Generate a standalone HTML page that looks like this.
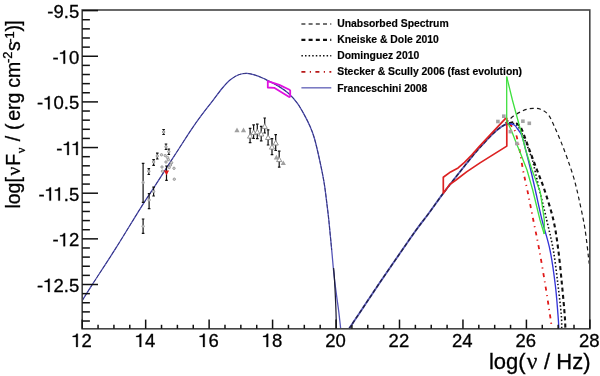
<!DOCTYPE html>
<html><head><meta charset="utf-8"><style>
html,body{margin:0;padding:0;background:#fff;}
svg{display:block;font-family:"Liberation Sans",sans-serif;will-change:transform;}
text{fill:#000;stroke:#000;stroke-width:0.3px;}
</style></head><body>
<svg width="600" height="376" viewBox="0 0 600 376">
<rect width="600" height="376" fill="#fff"/>
<defs><clipPath id="cp"><rect x="82.2" y="10.0" width="507.6" height="319.8"/></clipPath></defs>
<g clip-path="url(#cp)"><path d="M82.00,300.90 C83.73,298.15 86.82,293.10 92.40,284.40 C97.98,275.70 107.60,261.22 115.50,248.70 C123.40,236.18 133.57,219.23 139.80,209.30 C146.03,199.37 148.62,195.73 152.90,189.10 C157.18,182.47 161.30,176.02 165.50,169.50 C169.70,162.98 173.80,156.65 178.10,150.00 C182.40,143.35 187.33,135.48 191.30,129.60 C195.27,123.72 198.35,119.48 201.90,114.70 C205.45,109.92 209.25,105.27 212.60,100.90 C215.95,96.53 219.05,92.03 222.00,88.50 C224.95,84.97 227.52,82.04 230.30,79.75 C233.08,77.46 235.92,75.83 238.70,74.75 C241.48,73.67 244.23,73.22 247.00,73.30 C249.77,73.38 252.52,74.33 255.30,75.20 C258.08,76.07 261.62,77.60 263.70,78.50 C265.78,79.40 265.37,79.33 267.80,80.60 C270.23,81.87 274.78,83.92 278.30,86.10 C281.82,88.28 285.72,90.83 288.90,93.70 C292.08,96.57 294.92,99.93 297.40,103.30 C299.88,106.67 301.67,110.00 303.80,113.90 C305.93,117.80 308.40,122.52 310.20,126.70 C312.00,130.88 312.98,133.23 314.60,139.00 C316.22,144.77 318.32,154.03 319.90,161.30 C321.48,168.57 322.93,175.52 324.10,182.60 C325.27,189.68 326.12,197.57 326.90,203.80 C327.68,210.03 328.00,212.30 328.80,220.00 C329.60,227.70 330.83,240.83 331.70,250.00 C332.57,259.17 333.20,267.50 334.00,275.00 C334.80,282.50 335.70,288.83 336.50,295.00 C337.30,301.17 338.10,306.33 338.80,312.00 C339.50,317.67 340.38,326.17 340.70,329.00" fill="none" stroke="#5454b8" stroke-width="1.3"/><path d="M82.00,300.90 C83.73,298.15 86.82,293.10 92.40,284.40 C97.98,275.70 107.60,261.22 115.50,248.70 C123.40,236.18 133.57,219.23 139.80,209.30 C146.03,199.37 148.62,195.73 152.90,189.10 C157.18,182.47 161.30,176.02 165.50,169.50 C169.70,162.98 173.80,156.65 178.10,150.00 C182.40,143.35 187.33,135.48 191.30,129.60 C195.27,123.72 198.35,119.48 201.90,114.70 C205.45,109.92 209.25,105.27 212.60,100.90 C215.95,96.53 219.05,92.03 222.00,88.50 C224.95,84.97 227.52,82.04 230.30,79.75 C233.08,77.46 235.92,75.83 238.70,74.75 C241.48,73.67 244.23,73.22 247.00,73.30 C249.77,73.38 252.52,74.33 255.30,75.20 C258.08,76.07 261.62,77.60 263.70,78.50 C265.78,79.40 265.37,79.33 267.80,80.60 C270.23,81.87 274.78,83.92 278.30,86.10 C281.82,88.28 285.72,90.83 288.90,93.70 C292.08,96.57 294.92,99.93 297.40,103.30 C299.88,106.67 301.67,110.00 303.80,113.90 C305.93,117.80 308.40,122.52 310.20,126.70 C312.00,130.88 312.98,133.23 314.60,139.00 C316.22,144.77 318.32,154.03 319.90,161.30 C321.48,168.57 322.93,175.52 324.10,182.60 C325.27,189.68 326.12,197.57 326.90,203.80 C327.68,210.03 328.00,212.30 328.80,220.00 C329.60,227.70 331.22,245.00 331.70,250.00" fill="none" stroke="#2a2a66" stroke-width="0.75" stroke-dasharray="4 1.5"/><path d="M333.60,268.00 C333.73,269.67 334.12,273.50 334.40,278.00 C334.68,282.50 335.03,289.33 335.30,295.00 C335.57,300.67 335.82,306.33 336.00,312.00 C336.18,317.67 336.33,326.17 336.40,329.00" fill="none" stroke="#1c1c34" stroke-width="1.25"/><path d="M349.00,328.80 C351.53,325.00 359.13,313.60 364.20,306.00 C369.27,298.40 373.87,291.37 379.40,283.20 C384.93,275.03 391.42,265.67 397.40,257.00 C403.38,248.33 410.03,238.53 415.30,231.20 C420.57,223.87 424.42,219.22 429.00,213.00 C433.58,206.78 437.80,200.57 442.80,193.90 C447.80,187.23 453.48,179.98 459.00,173.00 C464.52,166.02 471.73,157.00 475.90,152.00 C480.07,147.00 481.32,145.92 484.00,143.00 C486.68,140.08 489.50,136.92 492.00,134.50 C494.50,132.08 496.82,130.13 499.00,128.50 C501.18,126.87 503.40,125.52 505.10,124.70 C506.80,123.88 508.52,123.78 509.20,123.60" fill="none" stroke="#5a5ab8" stroke-width="1.9"/><path d="M349.00,328.80 C351.53,325.00 359.13,313.60 364.20,306.00 C369.27,298.40 373.87,291.37 379.40,283.20 C384.93,275.03 391.42,265.67 397.40,257.00 C403.38,248.33 410.03,238.53 415.30,231.20 C420.57,223.87 424.42,219.22 429.00,213.00 C433.58,206.78 437.80,200.57 442.80,193.90 C447.80,187.23 453.48,179.98 459.00,173.00 C464.52,166.02 471.73,157.00 475.90,152.00 C480.07,147.00 481.32,145.92 484.00,143.00 C486.68,140.08 489.50,136.92 492.00,134.50 C494.50,132.08 496.82,130.13 499.00,128.50 C501.18,126.87 503.40,125.52 505.10,124.70 C506.80,123.88 508.52,123.78 509.20,123.60" fill="none" stroke="#22224a" stroke-width="1.4" stroke-dasharray="4 2.2"/><path d="M509.20,123.80 C509.77,124.38 511.52,125.77 512.60,127.30 C513.68,128.83 514.53,129.22 515.70,133.00 C516.87,136.78 518.38,143.83 519.60,150.00 C520.82,156.17 521.72,163.33 523.00,170.00 C524.28,176.67 525.58,181.67 527.30,190.00 C529.02,198.33 531.30,210.00 533.30,220.00 C535.30,230.00 537.30,239.17 539.30,250.00 C541.30,260.83 543.52,274.17 545.30,285.00 C547.08,295.83 548.88,307.67 550.00,315.00 C551.12,322.33 551.67,326.67 552.00,329.00" fill="none" stroke="#e01818" stroke-width="1.8" stroke-dasharray="4 4.4 1.2 4.4"/><path d="M509.20,123.40 C509.92,123.42 511.95,122.90 513.50,123.50 C515.05,124.10 516.75,124.58 518.50,127.00 C520.25,129.42 521.88,133.10 524.00,138.00 C526.12,142.90 529.58,151.90 531.20,156.40 C532.82,160.90 532.52,160.23 533.70,165.00 C534.88,169.77 536.13,175.83 538.30,185.00 C540.47,194.17 544.20,209.17 546.70,220.00 C549.20,230.83 551.42,239.17 553.30,250.00 C555.18,260.83 556.67,274.17 558.00,285.00 C559.33,295.83 560.68,307.67 561.30,315.00 C561.92,322.33 561.63,326.67 561.70,329.00" fill="none" stroke="#111" stroke-width="1.6" stroke-dasharray="1.5 2.1"/><path d="M509.20,123.20 C509.92,123.05 512.03,122.08 513.50,122.30 C514.97,122.52 516.58,123.22 518.00,124.50 C519.42,125.78 520.08,125.75 522.00,130.00 C523.92,134.25 527.00,143.33 529.50,150.00 C532.00,156.67 534.50,163.33 537.00,170.00 C539.50,176.67 541.77,181.67 544.50,190.00 C547.23,198.33 551.10,210.00 553.40,220.00 C555.70,230.00 556.87,239.17 558.30,250.00 C559.73,260.83 560.93,274.17 562.00,285.00 C563.07,295.83 564.13,307.67 564.70,315.00 C565.27,322.33 565.28,326.67 565.40,329.00" fill="none" stroke="#111" stroke-width="2.1" stroke-dasharray="4 3.2"/><path d="M509.20,123.60 C510.05,123.83 512.83,124.02 514.30,125.00 C515.77,125.98 516.83,127.92 518.00,129.50 C519.17,131.08 520.38,132.52 521.30,134.50 C522.22,136.48 522.77,138.82 523.50,141.40 C524.23,143.98 524.50,145.23 525.70,150.00 C526.90,154.77 529.10,163.33 530.70,170.00 C532.30,176.67 533.42,181.67 535.30,190.00 C537.18,198.33 539.55,210.00 542.00,220.00 C544.45,230.00 547.78,239.17 550.00,250.00 C552.22,260.83 553.97,274.17 555.30,285.00 C556.63,295.83 557.40,307.67 558.00,315.00 C558.60,322.33 558.75,326.67 558.90,329.00" fill="none" stroke="#3434d8" stroke-width="1.35"/><path d="M505.50,123.30 C506.08,122.73 507.67,121.10 509.00,119.90 C510.33,118.70 511.75,117.35 513.50,116.10 C515.25,114.85 517.37,113.52 519.50,112.40 C521.63,111.28 524.05,110.07 526.30,109.40 C528.55,108.73 530.63,108.43 533.00,108.40 C535.37,108.37 537.92,108.12 540.50,109.20 C543.08,110.28 546.10,111.82 548.50,114.90 C550.90,117.98 552.77,123.08 554.90,127.70 C557.03,132.32 559.17,137.28 561.30,142.60 C563.43,147.92 565.58,153.58 567.70,159.60 C569.82,165.62 572.12,172.10 574.00,178.70 C575.88,185.30 577.18,190.90 579.00,199.20 C580.82,207.50 583.20,217.77 584.90,228.50 C586.60,239.23 588.48,257.75 589.20,263.60" fill="none" stroke="#1a1a1a" stroke-width="1.2" stroke-dasharray="4 3.2"/><path d="M443.30,177.20 L450.60,171.90 L458.10,167.90 L464.50,162.30 L471.90,154.90 L479.40,146.40 L505.60,118.30 L506.80,118.30 L506.80,146.10 L480.00,162.90 L466.60,171.90 L456.00,180.00 L449.70,184.50 L443.30,193.20Z" fill="none" stroke="#dc2222" stroke-width="1.7" stroke-linejoin="round"/><path d="M506.70,76.60 L506.70,121.00 L508.60,124.50 L512.00,132.00 L516.60,143.90 L519.20,150.00 L527.00,170.00 L532.70,190.00 L540.00,220.00 L544.20,234.00" fill="none" stroke="#3ee03e" stroke-width="1.3" stroke-linejoin="round"/><path d="M506.70,76.60 L512.40,100.00 L520.00,128.00 L525.70,150.00 L532.00,170.00 L540.30,192.00 L544.30,220.00 L544.20,234.00" fill="none" stroke="#3ee03e" stroke-width="1.3" stroke-linejoin="round"/><rect x="502.0" y="114.4" width="3.6" height="3.6" fill="#a4a4a4"/><rect x="496.1" y="119.7" width="3.6" height="3.6" fill="#a4a4a4"/><rect x="508.6" y="129.8" width="3.6" height="3.6" fill="#a4a4a4"/><rect x="515.0" y="141.7" width="3.6" height="3.6" fill="#a4a4a4"/><rect x="521.1" y="119.4" width="3.6" height="3.6" fill="#a4a4a4"/><rect x="527.5" y="121.5" width="3.6" height="3.6" fill="#a4a4a4"/><path d="M267.80,81.10 L279.30,84.90 L289.50,89.70 L290.20,90.60 L290.20,96.40 L289.20,97.10 L274.20,87.80 L267.80,87.50Z" fill="none" stroke="#e010e0" stroke-width="1.8" stroke-linejoin="round"/><line x1="143.1" y1="163.3" x2="143.1" y2="202.3" stroke="#111" stroke-width="1.2"/><line x1="141.8" y1="163.3" x2="144.4" y2="163.3" stroke="#111" stroke-width="1.2"/><line x1="141.8" y1="202.3" x2="144.4" y2="202.3" stroke="#111" stroke-width="1.2"/><circle cx="143.1" cy="182.4" r="1.6" fill="#a8a8a8"/><line x1="149.1" y1="193.6" x2="149.1" y2="208.7" stroke="#111" stroke-width="1.2"/><line x1="147.8" y1="193.6" x2="150.4" y2="193.6" stroke="#111" stroke-width="1.2"/><line x1="147.8" y1="208.7" x2="150.4" y2="208.7" stroke="#111" stroke-width="1.2"/><circle cx="149.1" cy="200.0" r="1.2" fill="#d4d4d4" stroke="#8c8c8c" stroke-width="0.8"/><line x1="153.6" y1="187.2" x2="153.6" y2="196.0" stroke="#111" stroke-width="1.2"/><line x1="152.3" y1="187.2" x2="154.9" y2="187.2" stroke="#111" stroke-width="1.2"/><line x1="152.3" y1="196.0" x2="154.9" y2="196.0" stroke="#111" stroke-width="1.2"/><circle cx="153.6" cy="191.5" r="1.2" fill="#d4d4d4" stroke="#8c8c8c" stroke-width="0.8"/><line x1="143.1" y1="219.0" x2="143.1" y2="233.4" stroke="#111" stroke-width="1.2"/><line x1="141.8" y1="219.0" x2="144.4" y2="219.0" stroke="#111" stroke-width="1.2"/><line x1="141.8" y1="233.4" x2="144.4" y2="233.4" stroke="#111" stroke-width="1.2"/><circle cx="143.1" cy="226.3" r="1.2" fill="#d4d4d4" stroke="#8c8c8c" stroke-width="0.8"/><line x1="148.8" y1="168.6" x2="148.8" y2="174.5" stroke="#111" stroke-width="1.2"/><line x1="147.5" y1="168.6" x2="150.1" y2="168.6" stroke="#111" stroke-width="1.2"/><line x1="147.5" y1="174.5" x2="150.1" y2="174.5" stroke="#111" stroke-width="1.2"/><circle cx="148.8" cy="171.3" r="1.2" fill="#d4d4d4" stroke="#8c8c8c" stroke-width="0.8"/><line x1="153.6" y1="159.6" x2="153.6" y2="165.4" stroke="#111" stroke-width="1.2"/><line x1="152.3" y1="159.6" x2="154.9" y2="159.6" stroke="#111" stroke-width="1.2"/><line x1="152.3" y1="165.4" x2="154.9" y2="165.4" stroke="#111" stroke-width="1.2"/><circle cx="153.6" cy="162.0" r="1.2" fill="#d4d4d4" stroke="#8c8c8c" stroke-width="0.8"/><line x1="157.3" y1="153.2" x2="157.3" y2="159.0" stroke="#111" stroke-width="1.2"/><line x1="156.0" y1="153.2" x2="158.6" y2="153.2" stroke="#111" stroke-width="1.2"/><line x1="156.0" y1="159.0" x2="158.6" y2="159.0" stroke="#111" stroke-width="1.2"/><circle cx="157.3" cy="156.0" r="1.2" fill="#d4d4d4" stroke="#8c8c8c" stroke-width="0.8"/><line x1="163.6" y1="129.5" x2="163.6" y2="134.5" stroke="#111" stroke-width="1.2"/><line x1="162.3" y1="129.5" x2="164.9" y2="129.5" stroke="#111" stroke-width="1.2"/><line x1="162.3" y1="134.5" x2="164.9" y2="134.5" stroke="#111" stroke-width="1.2"/><circle cx="163.6" cy="132.0" r="1.2" fill="#d4d4d4" stroke="#8c8c8c" stroke-width="0.8"/><line x1="166.0" y1="144.0" x2="166.0" y2="149.5" stroke="#111" stroke-width="1.2"/><line x1="164.7" y1="144.0" x2="167.3" y2="144.0" stroke="#111" stroke-width="1.2"/><line x1="164.7" y1="149.5" x2="167.3" y2="149.5" stroke="#111" stroke-width="1.2"/><circle cx="166.0" cy="146.8" r="1.2" fill="#d4d4d4" stroke="#8c8c8c" stroke-width="0.8"/><line x1="168.8" y1="149.0" x2="168.8" y2="154.5" stroke="#111" stroke-width="1.2"/><line x1="167.5" y1="149.0" x2="170.1" y2="149.0" stroke="#111" stroke-width="1.2"/><line x1="167.5" y1="154.5" x2="170.1" y2="154.5" stroke="#111" stroke-width="1.2"/><circle cx="168.8" cy="151.6" r="1.2" fill="#d4d4d4" stroke="#8c8c8c" stroke-width="0.8"/><circle cx="161.5" cy="154.8" r="1.2" fill="#d4d4d4" stroke="#8c8c8c" stroke-width="0.8"/><circle cx="165.2" cy="155.6" r="1.2" fill="#d4d4d4" stroke="#8c8c8c" stroke-width="0.8"/><circle cx="168.4" cy="159.6" r="1.2" fill="#d4d4d4" stroke="#8c8c8c" stroke-width="0.8"/><circle cx="166.0" cy="162.0" r="1.2" fill="#d4d4d4" stroke="#8c8c8c" stroke-width="0.8"/><circle cx="171.6" cy="162.7" r="1.2" fill="#d4d4d4" stroke="#8c8c8c" stroke-width="0.8"/><circle cx="162.0" cy="167.0" r="1.2" fill="#d4d4d4" stroke="#8c8c8c" stroke-width="0.8"/><circle cx="169.2" cy="167.5" r="1.2" fill="#d4d4d4" stroke="#8c8c8c" stroke-width="0.8"/><circle cx="174.0" cy="168.3" r="1.2" fill="#d4d4d4" stroke="#8c8c8c" stroke-width="0.8"/><circle cx="162.5" cy="171.2" r="1.2" fill="#d4d4d4" stroke="#8c8c8c" stroke-width="0.8"/><circle cx="174.3" cy="179.2" r="1.2" fill="#d4d4d4" stroke="#8c8c8c" stroke-width="0.8"/><circle cx="167.5" cy="157.5" r="1.2" fill="#d4d4d4" stroke="#8c8c8c" stroke-width="0.8"/><circle cx="170.5" cy="165.0" r="1.2" fill="#d4d4d4" stroke="#8c8c8c" stroke-width="0.8"/><line x1="166.5" y1="166.0" x2="166.5" y2="180.3" stroke="#111" stroke-width="1.2"/><line x1="165.2" y1="166.0" x2="167.8" y2="166.0" stroke="#111" stroke-width="1.2"/><line x1="165.2" y1="180.3" x2="167.8" y2="180.3" stroke="#111" stroke-width="1.2"/><path d="M163.9,170.6 L169.1,170.6 L166.5,175.2 Z" fill="#e01818"/><path d="M237.0,127.6 L239.6,132.3 L234.4,132.3 Z" fill="#a0a0a0"/><path d="M243.5,127.6 L246.1,132.3 L240.9,132.3 Z" fill="#a0a0a0"/><line x1="250.1" y1="128.4" x2="250.1" y2="142.6" stroke="#111" stroke-width="1.2"/><line x1="248.8" y1="128.4" x2="251.4" y2="128.4" stroke="#111" stroke-width="1.2"/><line x1="248.8" y1="142.6" x2="251.4" y2="142.6" stroke="#111" stroke-width="1.2"/><path d="M250.1,133.4 L252.7,138.1 L247.5,138.1 Z" fill="#fff" stroke="#888" stroke-width="0.9"/><line x1="253.6" y1="124.9" x2="253.6" y2="138.5" stroke="#111" stroke-width="1.2"/><line x1="252.3" y1="124.9" x2="254.9" y2="124.9" stroke="#111" stroke-width="1.2"/><line x1="252.3" y1="138.5" x2="254.9" y2="138.5" stroke="#111" stroke-width="1.2"/><path d="M253.6,129.9 L256.2,134.6 L251.0,134.6 Z" fill="#fff" stroke="#888" stroke-width="0.9"/><line x1="257.3" y1="124.2" x2="257.3" y2="138.7" stroke="#111" stroke-width="1.2"/><line x1="256.0" y1="124.2" x2="258.6" y2="124.2" stroke="#111" stroke-width="1.2"/><line x1="256.0" y1="138.7" x2="258.6" y2="138.7" stroke="#111" stroke-width="1.2"/><path d="M257.3,129.2 L259.9,133.9 L254.7,133.9 Z" fill="#fff" stroke="#888" stroke-width="0.9"/><line x1="261.2" y1="126.3" x2="261.2" y2="140.8" stroke="#111" stroke-width="1.2"/><line x1="259.9" y1="126.3" x2="262.5" y2="126.3" stroke="#111" stroke-width="1.2"/><line x1="259.9" y1="140.8" x2="262.5" y2="140.8" stroke="#111" stroke-width="1.2"/><path d="M261.2,131.3 L263.8,136.0 L258.6,136.0 Z" fill="#fff" stroke="#888" stroke-width="0.9"/><line x1="264.7" y1="118.0" x2="264.7" y2="133.0" stroke="#111" stroke-width="1.2"/><line x1="263.4" y1="118.0" x2="266.0" y2="118.0" stroke="#111" stroke-width="1.2"/><line x1="263.4" y1="133.0" x2="266.0" y2="133.0" stroke="#111" stroke-width="1.2"/><path d="M264.7,123.7 L267.3,128.4 L262.1,128.4 Z" fill="#fff" stroke="#888" stroke-width="0.9"/><line x1="268.1" y1="129.8" x2="268.1" y2="145.0" stroke="#111" stroke-width="1.2"/><line x1="266.8" y1="129.8" x2="269.4" y2="129.8" stroke="#111" stroke-width="1.2"/><line x1="266.8" y1="145.0" x2="269.4" y2="145.0" stroke="#111" stroke-width="1.2"/><path d="M268.1,134.8 L270.7,139.5 L265.5,139.5 Z" fill="#fff" stroke="#888" stroke-width="0.9"/><line x1="272.0" y1="138.7" x2="272.0" y2="154.7" stroke="#111" stroke-width="1.2"/><line x1="270.7" y1="138.7" x2="273.3" y2="138.7" stroke="#111" stroke-width="1.2"/><line x1="270.7" y1="154.7" x2="273.3" y2="154.7" stroke="#111" stroke-width="1.2"/><path d="M272.0,144.4 L274.6,149.1 L269.4,149.1 Z" fill="#fff" stroke="#888" stroke-width="0.9"/><line x1="275.7" y1="134.6" x2="275.7" y2="150.5" stroke="#111" stroke-width="1.2"/><line x1="274.4" y1="134.6" x2="277.0" y2="134.6" stroke="#111" stroke-width="1.2"/><line x1="274.4" y1="150.5" x2="277.0" y2="150.5" stroke="#111" stroke-width="1.2"/><path d="M275.7,140.3 L278.3,145.0 L273.1,145.0 Z" fill="#fff" stroke="#888" stroke-width="0.9"/><line x1="279.2" y1="151.2" x2="279.2" y2="167.1" stroke="#111" stroke-width="1.2"/><line x1="277.9" y1="151.2" x2="280.5" y2="151.2" stroke="#111" stroke-width="1.2"/><line x1="277.9" y1="167.1" x2="280.5" y2="167.1" stroke="#111" stroke-width="1.2"/><path d="M279.2,156.9 L281.8,161.6 L276.6,161.6 Z" fill="#fff" stroke="#888" stroke-width="0.9"/><path d="M276.4,154.8 L279.0,159.5 L273.8,159.5 Z" fill="#a0a0a0"/><path d="M283.3,160.4 L285.9,165.1 L280.7,165.1 Z" fill="#a0a0a0"/></g>
<rect x="82.2" y="10.0" width="507.6" height="318.8" fill="none" stroke="#444" stroke-width="1.6"/><line x1="82.2" y1="10.60" x2="98.0" y2="10.60" stroke="#111" stroke-width="1.5"/><line x1="82.2" y1="19.73" x2="89.9" y2="19.73" stroke="#111" stroke-width="1.5"/><line x1="82.2" y1="28.86" x2="89.9" y2="28.86" stroke="#111" stroke-width="1.5"/><line x1="82.2" y1="37.99" x2="89.9" y2="37.99" stroke="#111" stroke-width="1.5"/><line x1="82.2" y1="47.12" x2="89.9" y2="47.12" stroke="#111" stroke-width="1.5"/><line x1="82.2" y1="56.25" x2="98.0" y2="56.25" stroke="#111" stroke-width="1.5"/><line x1="82.2" y1="65.38" x2="89.9" y2="65.38" stroke="#111" stroke-width="1.5"/><line x1="82.2" y1="74.51" x2="89.9" y2="74.51" stroke="#111" stroke-width="1.5"/><line x1="82.2" y1="83.64" x2="89.9" y2="83.64" stroke="#111" stroke-width="1.5"/><line x1="82.2" y1="92.77" x2="89.9" y2="92.77" stroke="#111" stroke-width="1.5"/><line x1="82.2" y1="101.90" x2="98.0" y2="101.90" stroke="#111" stroke-width="1.5"/><line x1="82.2" y1="111.03" x2="89.9" y2="111.03" stroke="#111" stroke-width="1.5"/><line x1="82.2" y1="120.16" x2="89.9" y2="120.16" stroke="#111" stroke-width="1.5"/><line x1="82.2" y1="129.29" x2="89.9" y2="129.29" stroke="#111" stroke-width="1.5"/><line x1="82.2" y1="138.42" x2="89.9" y2="138.42" stroke="#111" stroke-width="1.5"/><line x1="82.2" y1="147.55" x2="98.0" y2="147.55" stroke="#111" stroke-width="1.5"/><line x1="82.2" y1="156.68" x2="89.9" y2="156.68" stroke="#111" stroke-width="1.5"/><line x1="82.2" y1="165.81" x2="89.9" y2="165.81" stroke="#111" stroke-width="1.5"/><line x1="82.2" y1="174.94" x2="89.9" y2="174.94" stroke="#111" stroke-width="1.5"/><line x1="82.2" y1="184.07" x2="89.9" y2="184.07" stroke="#111" stroke-width="1.5"/><line x1="82.2" y1="193.20" x2="98.0" y2="193.20" stroke="#111" stroke-width="1.5"/><line x1="82.2" y1="202.33" x2="89.9" y2="202.33" stroke="#111" stroke-width="1.5"/><line x1="82.2" y1="211.46" x2="89.9" y2="211.46" stroke="#111" stroke-width="1.5"/><line x1="82.2" y1="220.59" x2="89.9" y2="220.59" stroke="#111" stroke-width="1.5"/><line x1="82.2" y1="229.72" x2="89.9" y2="229.72" stroke="#111" stroke-width="1.5"/><line x1="82.2" y1="238.85" x2="98.0" y2="238.85" stroke="#111" stroke-width="1.5"/><line x1="82.2" y1="247.98" x2="89.9" y2="247.98" stroke="#111" stroke-width="1.5"/><line x1="82.2" y1="257.11" x2="89.9" y2="257.11" stroke="#111" stroke-width="1.5"/><line x1="82.2" y1="266.24" x2="89.9" y2="266.24" stroke="#111" stroke-width="1.5"/><line x1="82.2" y1="275.37" x2="89.9" y2="275.37" stroke="#111" stroke-width="1.5"/><line x1="82.2" y1="284.50" x2="98.0" y2="284.50" stroke="#111" stroke-width="1.5"/><line x1="82.2" y1="293.63" x2="89.9" y2="293.63" stroke="#111" stroke-width="1.5"/><line x1="82.2" y1="302.76" x2="89.9" y2="302.76" stroke="#111" stroke-width="1.5"/><line x1="82.2" y1="311.89" x2="89.9" y2="311.89" stroke="#111" stroke-width="1.5"/><line x1="82.2" y1="321.02" x2="89.9" y2="321.02" stroke="#111" stroke-width="1.5"/><line x1="82.20" y1="328.8" x2="82.20" y2="319.6" stroke="#111" stroke-width="1.5"/><line x1="98.06" y1="328.8" x2="98.06" y2="324.8" stroke="#111" stroke-width="1.5"/><line x1="113.93" y1="328.8" x2="113.93" y2="324.8" stroke="#111" stroke-width="1.5"/><line x1="129.80" y1="328.8" x2="129.80" y2="324.8" stroke="#111" stroke-width="1.5"/><line x1="145.66" y1="328.8" x2="145.66" y2="319.6" stroke="#111" stroke-width="1.5"/><line x1="161.53" y1="328.8" x2="161.53" y2="324.8" stroke="#111" stroke-width="1.5"/><line x1="177.39" y1="328.8" x2="177.39" y2="324.8" stroke="#111" stroke-width="1.5"/><line x1="193.25" y1="328.8" x2="193.25" y2="324.8" stroke="#111" stroke-width="1.5"/><line x1="209.12" y1="328.8" x2="209.12" y2="319.6" stroke="#111" stroke-width="1.5"/><line x1="224.99" y1="328.8" x2="224.99" y2="324.8" stroke="#111" stroke-width="1.5"/><line x1="240.85" y1="328.8" x2="240.85" y2="324.8" stroke="#111" stroke-width="1.5"/><line x1="256.72" y1="328.8" x2="256.72" y2="324.8" stroke="#111" stroke-width="1.5"/><line x1="272.58" y1="328.8" x2="272.58" y2="319.6" stroke="#111" stroke-width="1.5"/><line x1="288.44" y1="328.8" x2="288.44" y2="324.8" stroke="#111" stroke-width="1.5"/><line x1="304.31" y1="328.8" x2="304.31" y2="324.8" stroke="#111" stroke-width="1.5"/><line x1="320.18" y1="328.8" x2="320.18" y2="324.8" stroke="#111" stroke-width="1.5"/><line x1="336.04" y1="328.8" x2="336.04" y2="319.6" stroke="#111" stroke-width="1.5"/><line x1="351.90" y1="328.8" x2="351.90" y2="324.8" stroke="#111" stroke-width="1.5"/><line x1="367.77" y1="328.8" x2="367.77" y2="324.8" stroke="#111" stroke-width="1.5"/><line x1="383.63" y1="328.8" x2="383.63" y2="324.8" stroke="#111" stroke-width="1.5"/><line x1="399.50" y1="328.8" x2="399.50" y2="319.6" stroke="#111" stroke-width="1.5"/><line x1="415.37" y1="328.8" x2="415.37" y2="324.8" stroke="#111" stroke-width="1.5"/><line x1="431.23" y1="328.8" x2="431.23" y2="324.8" stroke="#111" stroke-width="1.5"/><line x1="447.09" y1="328.8" x2="447.09" y2="324.8" stroke="#111" stroke-width="1.5"/><line x1="462.96" y1="328.8" x2="462.96" y2="319.6" stroke="#111" stroke-width="1.5"/><line x1="478.82" y1="328.8" x2="478.82" y2="324.8" stroke="#111" stroke-width="1.5"/><line x1="494.69" y1="328.8" x2="494.69" y2="324.8" stroke="#111" stroke-width="1.5"/><line x1="510.56" y1="328.8" x2="510.56" y2="324.8" stroke="#111" stroke-width="1.5"/><line x1="526.42" y1="328.8" x2="526.42" y2="319.6" stroke="#111" stroke-width="1.5"/><line x1="542.28" y1="328.8" x2="542.28" y2="324.8" stroke="#111" stroke-width="1.5"/><line x1="558.15" y1="328.8" x2="558.15" y2="324.8" stroke="#111" stroke-width="1.5"/><line x1="574.01" y1="328.8" x2="574.01" y2="324.8" stroke="#111" stroke-width="1.5"/><line x1="589.88" y1="328.8" x2="589.88" y2="319.6" stroke="#111" stroke-width="1.5"/>
<text x="47.32" y="18.00" font-size="18.5">-</text><text x="53.48" y="18.00" font-size="18.5">9</text><text x="63.77" y="18.00" font-size="18.5">.</text><text x="68.91" y="18.00" font-size="18.5">5</text><text x="52.47" y="63.65" font-size="18.5">-</text><path d="M65.10,63.65 L65.10,50.53 L63.77,50.53 L63.44,51.35 L62.61,52.18 L61.40,52.59 L60.02,52.70 L60.02,53.75 L63.44,53.75 L63.44,63.65Z" fill="#000" stroke="#000" stroke-width="0.3"/><text x="68.91" y="63.65" font-size="18.5">0</text><text x="37.04" y="109.30" font-size="18.5">-</text><path d="M49.67,109.30 L49.67,96.18 L48.34,96.18 L48.01,97.00 L47.18,97.83 L45.97,98.24 L44.59,98.35 L44.59,99.40 L48.01,99.40 L48.01,109.30Z" fill="#000" stroke="#000" stroke-width="0.3"/><text x="53.48" y="109.30" font-size="18.5">0</text><text x="63.77" y="109.30" font-size="18.5">.</text><text x="68.91" y="109.30" font-size="18.5">5</text><text x="56.24" y="154.95" font-size="18.5">-</text><path d="M68.87,154.95 L68.87,141.83 L67.54,141.83 L67.21,142.65 L66.37,143.48 L65.17,143.89 L63.78,144.00 L63.78,145.05 L67.21,145.05 L67.21,154.95Z" fill="#000" stroke="#000" stroke-width="0.3"/><path d="M77.79,154.95 L77.79,141.83 L76.46,141.83 L76.12,142.65 L75.29,143.48 L74.09,143.89 L72.70,144.00 L72.70,145.05 L76.12,145.05 L76.12,154.95Z" fill="#000" stroke="#000" stroke-width="0.3"/><text x="38.41" y="200.60" font-size="18.5">-</text><path d="M51.04,200.60 L51.04,187.48 L49.71,187.48 L49.38,188.30 L48.55,189.13 L47.34,189.54 L45.96,189.65 L45.96,190.70 L49.38,190.70 L49.38,200.60Z" fill="#000" stroke="#000" stroke-width="0.3"/><path d="M59.96,200.60 L59.96,187.48 L58.63,187.48 L58.30,188.30 L57.46,189.13 L56.26,189.54 L54.87,189.65 L54.87,190.70 L58.30,190.70 L58.30,200.60Z" fill="#000" stroke="#000" stroke-width="0.3"/><text x="63.77" y="200.60" font-size="18.5">.</text><text x="68.91" y="200.60" font-size="18.5">5</text><text x="52.47" y="246.25" font-size="18.5">-</text><path d="M65.10,246.25 L65.10,233.13 L63.77,233.13 L63.44,233.95 L62.61,234.78 L61.40,235.19 L60.02,235.30 L60.02,236.35 L63.44,236.35 L63.44,246.25Z" fill="#000" stroke="#000" stroke-width="0.3"/><text x="68.91" y="246.25" font-size="18.5">2</text><text x="37.04" y="291.90" font-size="18.5">-</text><path d="M49.67,291.90 L49.67,278.78 L48.34,278.78 L48.01,279.60 L47.18,280.43 L45.97,280.84 L44.59,280.95 L44.59,282.00 L48.01,282.00 L48.01,291.90Z" fill="#000" stroke="#000" stroke-width="0.3"/><text x="53.48" y="291.90" font-size="18.5">2</text><text x="63.77" y="291.90" font-size="18.5">.</text><text x="68.91" y="291.90" font-size="18.5">5</text><path d="M77.79,346.90 L77.79,333.78 L76.46,333.78 L76.12,334.60 L75.29,335.43 L74.09,335.84 L72.70,335.95 L72.70,337.00 L76.12,337.00 L76.12,346.90Z" fill="#000" stroke="#000" stroke-width="0.3"/><text x="81.60" y="346.90" font-size="18.5">2</text><path d="M141.25,346.90 L141.25,333.78 L139.92,333.78 L139.58,334.60 L138.75,335.43 L137.55,335.84 L136.16,335.95 L136.16,337.00 L139.58,337.00 L139.58,346.90Z" fill="#000" stroke="#000" stroke-width="0.3"/><text x="145.06" y="346.90" font-size="18.5">4</text><path d="M204.71,346.90 L204.71,333.78 L203.38,333.78 L203.04,334.60 L202.21,335.43 L201.01,335.84 L199.62,335.95 L199.62,337.00 L203.04,337.00 L203.04,346.90Z" fill="#000" stroke="#000" stroke-width="0.3"/><text x="208.52" y="346.90" font-size="18.5">6</text><path d="M268.17,346.90 L268.17,333.78 L266.84,333.78 L266.50,334.60 L265.67,335.43 L264.47,335.84 L263.08,335.95 L263.08,337.00 L266.50,337.00 L266.50,346.90Z" fill="#000" stroke="#000" stroke-width="0.3"/><text x="271.98" y="346.90" font-size="18.5">8</text><text x="325.15" y="346.90" font-size="18.5">2</text><text x="335.44" y="346.90" font-size="18.5">0</text><text x="388.61" y="346.90" font-size="18.5">2</text><text x="398.90" y="346.90" font-size="18.5">2</text><text x="452.07" y="346.90" font-size="18.5">2</text><text x="462.36" y="346.90" font-size="18.5">4</text><text x="515.53" y="346.90" font-size="18.5">2</text><text x="525.82" y="346.90" font-size="18.5">6</text><text x="578.99" y="346.90" font-size="18.5">2</text><text x="589.28" y="346.90" font-size="18.5">8</text><text x="590.5" y="369.2" text-anchor="end" font-size="22">log(<tspan font-family="Liberation Serif" font-size="23.5" dx="1.2">ν</tspan><tspan dx="0.5"> / Hz)</tspan></text><text transform="translate(20,0) rotate(-90)" font-size="19.5"><tspan x="-208.57" y="0" font-family="Liberation Sans" font-size="19.5">log[</tspan><tspan x="-175.48" y="0" font-family="Liberation Serif" font-size="19.5">ν</tspan><tspan x="-165.72" y="0" font-family="Liberation Sans" font-size="19.5">F</tspan><tspan x="-153.22" y="4.8" font-family="Liberation Serif" font-size="12.5">ν</tspan><tspan x="-141.18" y="0" font-family="Liberation Sans" font-size="19.5">/</tspan><tspan x="-129.90" y="0" font-family="Liberation Sans" font-size="19.5">(</tspan><tspan x="-120.83" y="0" font-family="Liberation Sans" font-size="19.5">erg</tspan><tspan x="-87.83" y="0" font-family="Liberation Sans" font-size="19.5">cm</tspan><tspan x="-63.00" y="-8.3" font-family="Liberation Sans" font-size="13">-2</tspan><tspan x="-50.95" y="0" font-family="Liberation Sans" font-size="19.5">s</tspan><tspan x="-42.75" y="-6.3" font-family="Liberation Sans" font-size="13">-1</tspan><tspan x="-31.52" y="0" font-family="Liberation Sans" font-size="19.5">)</tspan><tspan x="-25.77" y="0" font-family="Liberation Sans" font-size="19.5">]</tspan></text>
<line x1="301.4" y1="23.9" x2="331.3" y2="23.9" stroke="#444" stroke-width="1.5" stroke-dasharray="4 3.2"/><line x1="301.4" y1="39.9" x2="331.3" y2="39.9" stroke="#111" stroke-width="2.2" stroke-dasharray="4 3.2"/><line x1="301.4" y1="55.7" x2="331.3" y2="55.7" stroke="#111" stroke-width="1.6" stroke-dasharray="1.5 2.1"/><line x1="301.4" y1="71.9" x2="331.3" y2="71.9" stroke="#b81818" stroke-width="1.8" stroke-dasharray="4 4.4 1.2 4.4"/><line x1="301.4" y1="87.8" x2="331.3" y2="87.8" stroke="#7474c0" stroke-width="1.5"/><text transform="translate(337.2,26.80) scale(1,1.07)" font-size="10.4" font-weight="bold" style="stroke-width:0.15px">Unabsorbed Spectrum</text><text transform="translate(337.2,43.02) scale(1,1.07)" font-size="10.4" font-weight="bold" style="stroke-width:0.15px">Kneiske &amp; Dole 2010</text><text transform="translate(337.2,59.24) scale(1,1.07)" font-size="10.4" font-weight="bold" style="stroke-width:0.15px">Dominguez 2010</text><text transform="translate(337.2,75.46) scale(1,1.07)" font-size="10.4" font-weight="bold" style="stroke-width:0.15px">Stecker &amp; Scully 2006 (fast evolution)</text><text transform="translate(337.2,91.68) scale(1,1.07)" font-size="10.4" font-weight="bold" style="stroke-width:0.15px">Franceschini 2008</text>
</svg>
</body></html>
